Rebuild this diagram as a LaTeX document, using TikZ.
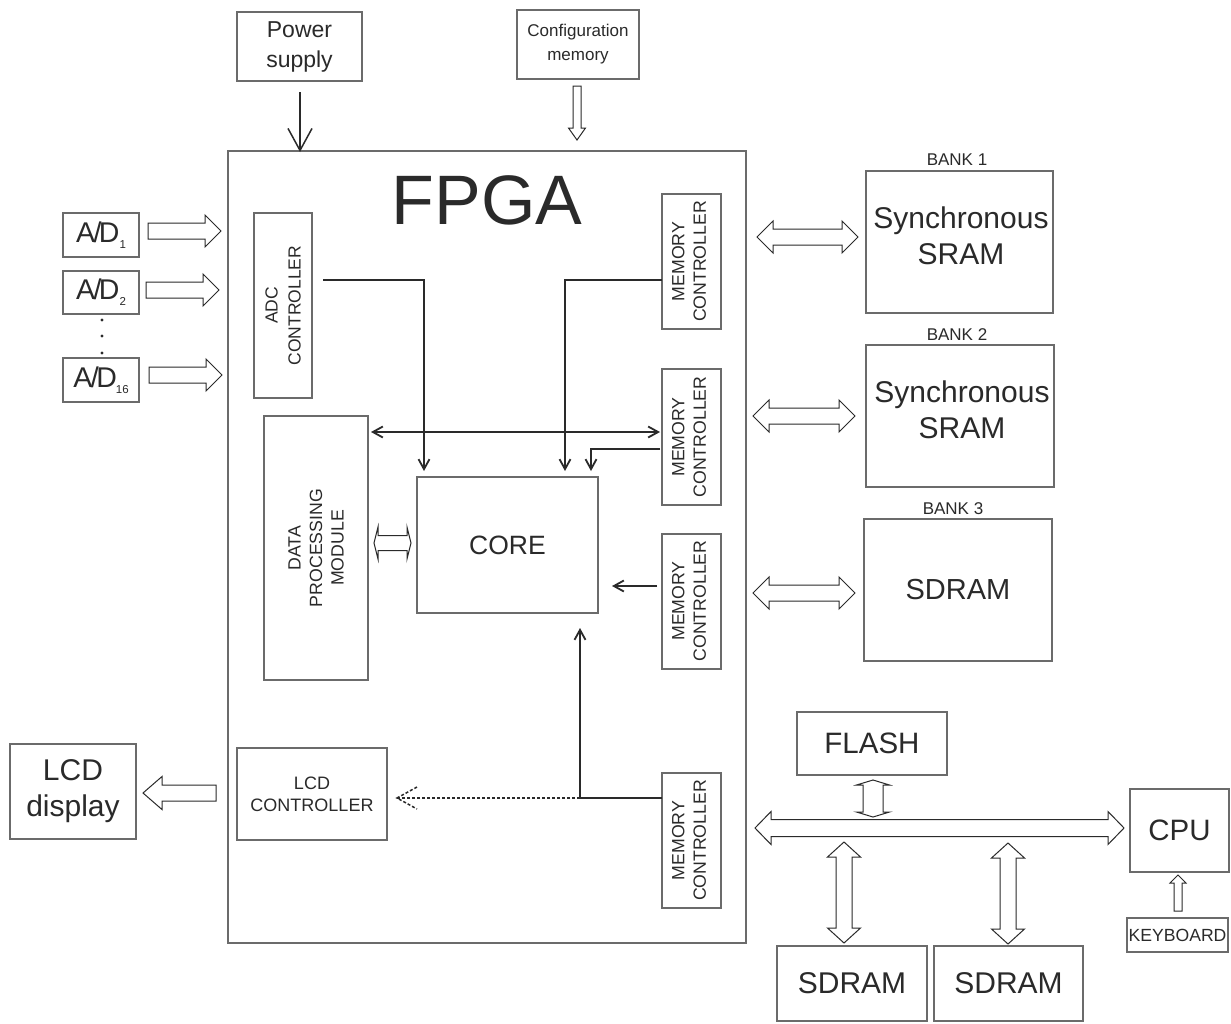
\documentclass[tikz,border=0pt]{standalone}
\usepackage{fontspec}
\setmainfont{Liberation Sans}
\usetikzlibrary{calc,arrows.meta}
\definecolor{boxc}{HTML}{6B6B6B}
\definecolor{txt}{HTML}{2A2A2A}
\definecolor{lnc}{HTML}{2A2A2A}
\newcommand\fs[2]{\fontsize{#1}{#2}\selectfont}
% hollow single arrow: tail #1, tip #2, shaft half #3, head half #4, head length #5
\newcommand\holS[5]{%
  \coordinate (hH) at ($(#2)!#5!(#1)$);
  \draw[hol] ($(#1)!#3!90:(#2)$) -- ($(hH)!#3!90:(#2)$) -- ($(hH)!#4!90:(#2)$) -- (#2)
    -- ($(hH)!#4!-90:(#2)$) -- ($(hH)!#3!-90:(#2)$) -- ($(#1)!#3!-90:(#2)$) -- cycle;}
% hollow double arrow between #1 and #2
\newcommand\holD[5]{%
  \coordinate (hA) at ($(#1)!#5!(#2)$);
  \coordinate (hB) at ($(#2)!#5!(#1)$);
  \draw[hol] (#1) -- ($(hA)!#4!90:(#2)$) -- ($(hA)!#3!90:(#2)$) -- ($(hB)!#3!90:(#2)$)
    -- ($(hB)!#4!90:(#2)$) -- (#2) -- ($(hB)!#4!-90:(#2)$) -- ($(hB)!#3!-90:(#2)$)
    -- ($(hA)!#3!-90:(#2)$) -- ($(hA)!#4!-90:(#2)$) -- cycle;}
\tikzset{
  box/.style={draw=boxc, line width=2pt, inner sep=0pt, outer sep=0pt, align=center, text=txt},
  hol/.style={draw=lnc, line width=1pt, fill=white, line join=miter},
  ln/.style={draw=lnc, line width=1.8pt},
  tip/.style={-{Straight Barb[length=10pt,width=11pt]}},
  lbl/.style={text=txt, inner sep=0pt, align=center},
  mcbox/.style={box, minimum width=59pt, minimum height=135pt},
  mctext/.style={lbl, rotate=90, font={\fs{17.7}{21.5}}},
  dsh/.style={draw=lnc, line width=1.5pt, dash pattern=on 3pt off 2pt},
}
\begin{document}
\begin{tikzpicture}[x=1pt,y=-1pt]
\useasboundingbox[fill=white] (0,0) rectangle (1231,1023);

% ---------- top ----------
\node[box, minimum width=125pt, minimum height=69pt, font={\fs{23}{30}}] (power) at (299.5,46.5) {Power\\supply};
\node[box, minimum width=122pt, minimum height=69pt, font={\fs{17}{24}}] (config) at (578,44.5) {Configuration\\memory};

% ---------- FPGA ----------
\node[box, minimum width=518pt, minimum height=792pt] (fpga) at (487,547) {};
\node[lbl, font={\fs{70}{80}}] (fpgat) at (487,200) {FPGA};

\coordinate (pwin) at (300,92);
\coordinate (pwto) at (300,152);
\draw[draw=lnc, line width=1.5pt, -{Straight Barb[length=22pt,width=24pt]}] (pwin) -- (pwto);
\coordinate (cfa) at (577,86);
\coordinate (cfb) at (577,140);
\holS{cfa}{cfb}{4pt}{8.5pt}{12pt}

% ---------- A/D ----------
\node[box, minimum width=76pt, minimum height=44pt, font={\fs{28.5}{30}}] (ad1) at (101,235) {A\kern-1.5pt/\kern-2.5pt D\raisebox{-6pt}{\fs{11.5}{12}1}};
\node[box, minimum width=76pt, minimum height=43pt, font={\fs{28.5}{30}}] (ad2) at (101,292.5) {A\kern-1.5pt/\kern-2.5pt D\raisebox{-6pt}{\fs{11.5}{12}2}};
\node[box, minimum width=76pt, minimum height=44pt, font={\fs{28.5}{30}}] (ad16) at (101,380) {A\kern-1.5pt/\kern-2.5pt D\raisebox{-6pt}{\kern-1pt\fs{11.5}{12}16}};
\foreach \yy in {320,336,353} \fill[lnc] (102,\yy) circle (1.6pt);

\node[box, rotate=90, minimum width=185pt, minimum height=58pt, font={\fs{17.5}{23}}] (adc) at (283,305.5) {ADC\\CONTROLLER};

\coordinate (a1s) at (148,231); \coordinate (a1e) at (221,231);
\coordinate (a2s) at (146,290); \coordinate (a2e) at (219,290);
\coordinate (a3s) at (149,375); \coordinate (a3e) at (222,375);
\holS{a1s}{a1e}{8pt}{16pt}{16pt}
\holS{a2s}{a2e}{8pt}{16pt}{16pt}
\holS{a3s}{a3e}{8pt}{16pt}{16pt}

% ---------- inner blocks ----------
\node[box, rotate=90, minimum width=264pt, minimum height=104pt, font={\fs{17.7}{21.5}}] (dpm) at (316,548) {DATA\\PROCESSING\\MODULE};
\node[box, minimum width=181pt, minimum height=136pt, font={\fs{26.5}{30}}] (core) at (507.5,545) {CORE};

\node[mcbox] (mc1) at (691.5,261.5) {};
\node[mcbox, minimum height=136pt] (mc2) at (691.5,437) {};
\node[mcbox] (mc3) at (691.5,601) {};
\node[mcbox] (mc4) at (691.5,840.5) {};
\node[mctext] (mc1t) at (689,261.5) {MEMORY\\CONTROLLER};
\node[mctext] (mc2t) at (689,437) {MEMORY\\CONTROLLER};
\node[mctext] (mc3t) at (689,601) {MEMORY\\CONTROLLER};
\node[mctext] (mc4t) at (689,840.5) {MEMORY\\CONTROLLER};

\node[box, minimum width=150pt, minimum height=92pt, font={\fs{18}{22}}] (lcdc) at (312,794) {LCD\\CONTROLLER};

% inner connectors
\coordinate (adco) at (323,280);
\coordinate (cin1) at (424,471);
\coordinate (m1o) at (662,280);
\coordinate (cin2) at (565,471);
\coordinate (m2o) at (660,449);
\coordinate (cin3) at (591,471);
\coordinate (dpmr) at (371,432);
\coordinate (m2l) at (660,432);
\coordinate (m3o) at (657,586);
\coordinate (cr) at (612,586);
\coordinate (m4o) at (662,798);
\coordinate (junc) at (580,798);
\coordinate (cbot) at (580,628);
\coordinate (lcdin) at (397,798);

\draw[ln,tip] (adco) -| (cin1);
\draw[ln,tip] (m1o) -| (cin2);
\draw[ln,tip] (m2o) -| (cin3);
\draw[ln,{Straight Barb[length=10pt,width=11pt]}-{Straight Barb[length=10pt,width=11pt]}] (dpmr) -- (m2l);
\draw[ln,tip] (m3o) -- (cr);
\draw[ln] (m4o) -- (junc);
\draw[ln,tip] (junc) -- (cbot);
\draw[dsh] (junc) -- (lcdin);
\draw[dsh] ($(lcdin)+(20,-11)$) -- (lcdin) -- ($(lcdin)+(20,11)$);

\coordinate (dca) at (374,543); \coordinate (dcb) at (411,543);
\holD{dca}{dcb}{7.5pt}{16pt}{4pt}

% ---------- LCD ----------
\node[box, minimum width=126pt, minimum height=95pt, font={\fs{30}{36}}] (lcd) at (73,791.5) {LCD\\display};
\coordinate (la) at (216,793); \coordinate (lb) at (143,793);
\holS{la}{lb}{8pt}{16.5pt}{19pt}

% ---------- banks ----------
\node[lbl, font={\fs{17}{20}}] (b1) at (957,160) {BANK 1};
\node[lbl, font={\fs{17}{20}}] (b2) at (957,335) {BANK 2};
\node[lbl, font={\fs{17}{20}}] (b3) at (953,509) {BANK 3};
\node[box, minimum width=187pt, minimum height=142pt] (sram1) at (959.5,242) {};
\node[box, minimum width=188pt, minimum height=142pt] (sram2) at (960,416) {};
\node[lbl, font={\fs{30}{36}}] (sram1t) at (961,236) {Synchronous\\SRAM};
\node[lbl, font={\fs{30}{36}}] (sram2t) at (962,410) {Synchronous\\SRAM};
\node[box, minimum width=188pt, minimum height=142pt, font={\fs{29}{34}}] (sdram3) at (958,590) {SDRAM};

\coordinate (k1a) at (757,237); \coordinate (k1b) at (858,237);
\coordinate (k2a) at (753,416); \coordinate (k2b) at (855,416);
\coordinate (k3a) at (753,593); \coordinate (k3b) at (855,593);
\holD{k1a}{k1b}{8pt}{16pt}{16pt}
\holD{k2a}{k2b}{8pt}{16pt}{16pt}
\holD{k3a}{k3b}{8pt}{16pt}{16pt}

% ---------- bus ----------
\node[box, minimum width=150pt, minimum height=63pt, font={\fs{29.5}{34}}] (flash) at (872,743.5) {FLASH};
\node[box, minimum width=99pt, minimum height=83pt, font={\fs{29.5}{34}}] (cpu) at (1179.5,830.5) {CPU};
\node[box, minimum width=101pt, minimum height=34pt, font={\fs{17.6}{20}}] (kbd) at (1177.5,935) {KEYBOARD};
\node[box, minimum width=150pt, minimum height=75pt, font={\fs{30}{34}}] (sda) at (852,983.5) {SDRAM};
\node[box, minimum width=149pt, minimum height=75pt, font={\fs{30}{34}}] (sdb) at (1008.5,983.5) {SDRAM};

\coordinate (bsa) at (755,828); \coordinate (bsb) at (1124,828);
\holD{bsa}{bsb}{8.5pt}{16.5pt}{16pt}
\coordinate (fla) at (873,780); \coordinate (flb) at (873,817);
\holD{fla}{flb}{10pt}{16.5pt}{5pt}
\coordinate (sa1) at (844,842); \coordinate (sa2) at (844,943);
\holD{sa1}{sa2}{8pt}{16.5pt}{15pt}
\coordinate (sb1) at (1008,843); \coordinate (sb2) at (1008,944);
\holD{sb1}{sb2}{8pt}{16.5pt}{15pt}
\coordinate (kba) at (1178,911); \coordinate (kbb) at (1178,875);
\holS{kba}{kbb}{4pt}{8pt}{8pt}
\end{tikzpicture}
\end{document}
